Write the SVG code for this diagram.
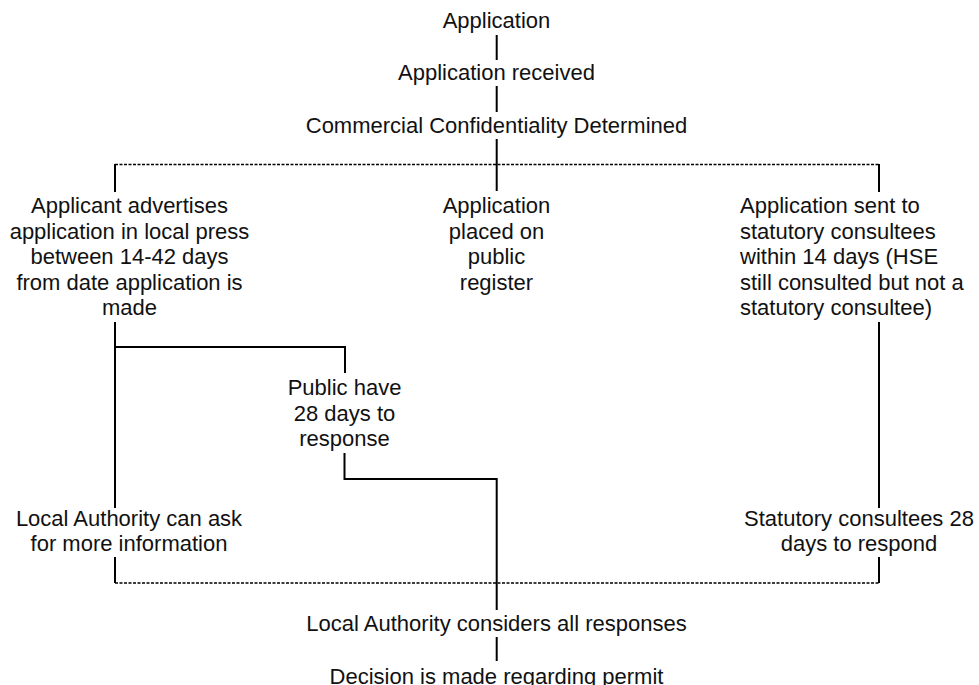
<svg xmlns="http://www.w3.org/2000/svg" width="979" height="685" viewBox="0 0 979 685">
<style>
  text { font-family: "Liberation Sans", Arial, sans-serif; font-size: 22px; fill: #111; }
  .c { text-anchor: middle; }
  .s { stroke: #000; stroke-width: 2; fill: none; }
  .d { stroke: #000; stroke-width: 1.3; fill: none; stroke-dasharray: 3 1.5; }
</style>
<rect width="979" height="685" fill="#fff"/>
<g id="connectors">
  <line class="s" x1="496.7" y1="35" x2="496.7" y2="60"/>
  <line class="s" x1="496.7" y1="86" x2="496.7" y2="112"/>
  <line class="s" x1="496.7" y1="139" x2="496.7" y2="191"/>
  <line class="d" x1="115" y1="164.5" x2="879" y2="164.5"/>
  <line class="s" x1="115" y1="164" x2="115" y2="192"/>
  <line class="s" x1="879" y1="164" x2="879" y2="192"/>
  <line class="s" x1="115" y1="322" x2="115" y2="508"/>
  <polyline class="s" points="115,347 345,347 345,373"/>
  <line class="s" x1="879" y1="322" x2="879" y2="508"/>
  <polyline class="s" points="344.5,453 344.5,479 496.7,479 496.7,610"/>
  <line class="s" x1="115" y1="557" x2="115" y2="583"/>
  <line class="s" x1="879" y1="557" x2="879" y2="583"/>
  <line class="d" x1="115" y1="583" x2="879" y2="583"/>
  <line class="s" x1="496.7" y1="637" x2="496.7" y2="661"/>
</g>
<g id="application"><text class="c" x="496.5" y="28">Application</text></g>
<g id="received"><text class="c" x="496.5" y="80">Application received</text></g>
<g id="confidentiality"><text class="c" x="496.5" y="133">Commercial Confidentiality Determined</text></g>
<g id="advertises">
  <text class="c" x="129.5" y="213">Applicant advertises</text>
  <text class="c" x="129.5" y="239">application in local press</text>
  <text class="c" x="129.5" y="264">between 14-42 days</text>
  <text class="c" x="129.5" y="290">from date application is</text>
  <text class="c" x="129.5" y="315">made</text>
</g>
<g id="register">
  <text class="c" x="496.5" y="213">Application</text>
  <text class="c" x="496.5" y="239">placed on</text>
  <text class="c" x="496.5" y="264">public</text>
  <text class="c" x="496.5" y="290">register</text>
</g>
<g id="consultees-sent">
  <text x="740" y="213">Application sent to</text>
  <text x="740" y="239">statutory consultees</text>
  <text x="740" y="264">within 14 days (HSE</text>
  <text x="740" y="290">still consulted but not a</text>
  <text x="740" y="315">statutory consultee)</text>
</g>
<g id="public">
  <text class="c" x="344.5" y="395">Public have</text>
  <text class="c" x="344.5" y="421">28 days to</text>
  <text class="c" x="344.5" y="446">response</text>
</g>
<g id="la-ask">
  <text class="c" x="129" y="526">Local Authority can ask</text>
  <text class="c" x="129" y="551">for more information</text>
</g>
<g id="consultees-respond">
  <text class="c" x="859" y="526">Statutory consultees 28</text>
  <text class="c" x="859" y="551">days to respond</text>
</g>
<g id="considers"><text class="c" x="496.5" y="631">Local Authority considers all responses</text></g>
<g id="decision"><text class="c" x="496.5" y="684">Decision is made regarding permit</text></g>
</svg>
